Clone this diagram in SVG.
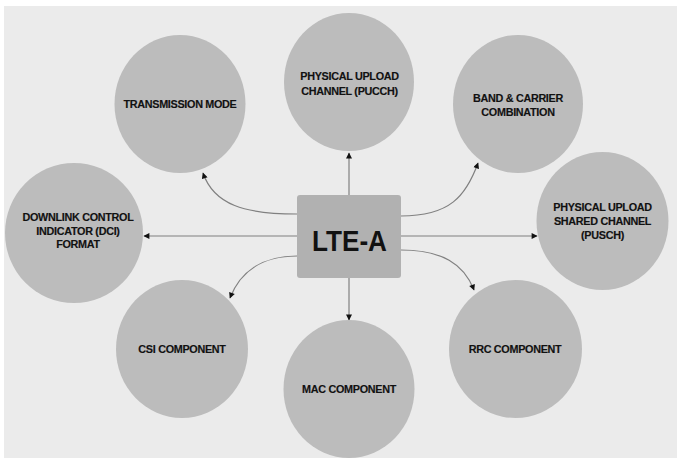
<svg xmlns="http://www.w3.org/2000/svg" width="677" height="458" viewBox="0 0 677 458">
<defs>
<style>
.node ellipse{fill:#bcbcbc;}
.lbl{font-family:"Liberation Sans",Arial,sans-serif;font-weight:bold;font-size:10.8px;fill:#111111;text-anchor:middle;letter-spacing:-0.3px;stroke:#111111;stroke-width:0.15px;}
.conn path{fill:none;stroke:#808080;stroke-width:1.2;marker-end:url(#arr);}
</style>
<marker id="arr" viewBox="0 0 10 10" refX="9" refY="5" markerWidth="7" markerHeight="6" markerUnits="userSpaceOnUse" orient="auto">
<path d="M0,0 L10,5 L0,10 z" fill="#111"/>
</marker>
</defs>
<rect x="0" y="0" width="677" height="458" fill="#ffffff"/>
<rect x="4" y="6" width="673" height="452" fill="#ebebeb"/>

<g id="connectors" class="conn">
<path d="M349,195 L349,153"/>
<path d="M349,278 L349,320"/>
<path d="M297,236 L144,236"/>
<path d="M401,236 L537,236"/>
<path d="M297,214 C245,214 214,205 203,173"/>
<path d="M401,216 C450,216 466,196 478,163"/>
<path d="M297,256 C262,256 240,272 230,298"/>
<path d="M401,250 C442,250 464,264 474,290"/>
</g>

<g id="n-transmission" class="node">
<ellipse cx="180" cy="104" rx="65.5" ry="69"/>
<text class="lbl" x="180" y="108">TRANSMISSION MODE</text>
</g>
<g id="n-pucch" class="node">
<ellipse cx="349" cy="82" rx="65" ry="69"/>
<text class="lbl" x="349.5" y="79.5">PHYSICAL UPLOAD</text>
<text class="lbl" x="349.5" y="95">CHANNEL (PUCCH)</text>
</g>
<g id="n-band" class="node">
<ellipse cx="518" cy="104" rx="65" ry="69"/>
<text class="lbl" x="518" y="101.5">BAND &amp; CARRIER</text>
<text class="lbl" x="518" y="115.5">COMBINATION</text>
</g>
<g id="n-dci" class="node">
<ellipse cx="74" cy="233" rx="69" ry="70"/>
<text class="lbl" x="78" y="221">DOWNLINK CONTROL</text>
<text class="lbl" x="78" y="234.5">INDICATOR (DCI)</text>
<text class="lbl" x="78" y="248">FORMAT</text>
</g>
<g id="n-pusch" class="node">
<ellipse cx="602.5" cy="221" rx="66" ry="69"/>
<text class="lbl" x="602.5" y="211">PHYSICAL UPLOAD</text>
<text class="lbl" x="602.5" y="225">SHARED CHANNEL</text>
<text class="lbl" x="602.5" y="239">(PUSCH)</text>
</g>
<g id="n-csi" class="node">
<ellipse cx="182" cy="349" rx="66" ry="69"/>
<text class="lbl" x="182" y="352.5">CSI COMPONENT</text>
</g>
<g id="n-mac" class="node">
<ellipse cx="349" cy="389" rx="65.5" ry="69"/>
<text class="lbl" x="349" y="393">MAC COMPONENT</text>
</g>
<g id="n-rrc" class="node">
<ellipse cx="515.5" cy="349" rx="66.5" ry="69"/>
<text class="lbl" x="515" y="352.5">RRC COMPONENT</text>
</g>
<g id="n-lte" class="node">
<rect x="297" y="195" width="104" height="83" rx="3" fill="#b1b1b1"/>
<text x="349.5" y="251" font-family="'Liberation Sans',Arial,sans-serif" font-weight="bold" font-size="30" fill="#111" text-anchor="middle" textLength="75" lengthAdjust="spacingAndGlyphs">LTE-A</text>
</g>
</svg>
